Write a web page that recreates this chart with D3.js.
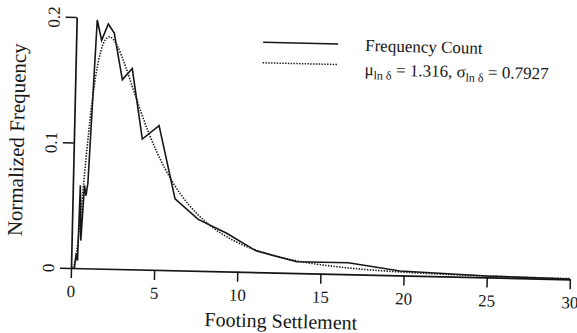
<!DOCTYPE html>
<html>
<head>
<meta charset="utf-8">
<script src="https://cdn.jsdelivr.net/npm/d3@7/dist/d3.min.js"></script>
<style>
  html, body { margin: 0; padding: 0; background: #ffffff; }
  svg { display: block; }
  text { font-family: "Liberation Serif", "Times New Roman", serif; fill: #161616; }
</style>
</head>
<body>
<svg id="chart" width="577" height="333"></svg>
<script>
// Observed footing settlements: normalized frequency per settlement bin
const FREQ_X = [0.2, 0.3, 0.38, 0.45, 0.55, 0.7, 0.8, 0.9, 1.24, 1.53, 1.91, 2.28, 2.83, 3.41, 4.11, 5.1, 6.16, 7.58, 9.31, 11.1, 13.56, 16.66, 19.78, 25, 30];
const FREQ_Y = [0, 0.012, 0.006, 0.066, 0.022, 0.066, 0.058, 0.068, 0.198, 0.182, 0.195, 0.188, 0.151, 0.160, 0.104, 0.115, 0.057, 0.041, 0.0305, 0.017, 0.0091, 0.0092, 0.0036, 0.0011, 0.0003];

// Fitted lognormal curve (mu = 1.316, sigma = 0.7927)
const FIT_X = [0.1, 0.25, 0.5, 0.75, 1, 1.25, 1.5, 1.75, 2, 2.25, 2.5, 3, 3.5, 4, 4.5, 5, 6, 7, 8, 9, 10, 12, 14, 16, 18, 20, 22, 25, 28, 30];
const FIT_Y = [0.0002, 0.006, 0.0405, 0.0867, 0.1269, 0.1557, 0.1735, 0.1824, 0.1848, 0.1826, 0.1773, 0.1616, 0.1433, 0.1253, 0.1087, 0.094, 0.0701, 0.0524, 0.0396, 0.0301, 0.0232, 0.0141, 0.0089, 0.0058, 0.0039, 0.0027, 0.0019, 0.0011, 0.0007, 0.0005];

const X_TICKS = [0, 5, 10, 15, 20, 25, 30];
const Y_TICKS = [0, 0.1, 0.2];
const Y_TICK_LABELS = ["0", "0.1", "0.2"];

const X_TITLE = "Footing Settlement";
const Y_TITLE = "Normalized Frequency";
const LEGEND_SOLID = "Frequency Count";

const ink = "#161616";
const serif = "'Liberation Serif', 'Times New Roman', serif";
const svg = d3.select("#chart");

// The whole figure sits slightly turned on the page
const root = svg.append("g")
  .attr("transform", "rotate(1.3,71,268)")
  .attr("font-family", serif);

const x = d3.scaleLinear().domain([0, 30]).range([71, 570]);
const y = d3.scaleLinear().domain([0, 0.2]).range([268, 17]);

// x axis
const xAxis = root.append("g")
  .attr("transform", `translate(0,${y(0)})`)
  .call(d3.axisBottom(x).tickValues(X_TICKS).tickSize(10).tickSizeOuter(0).tickFormat(d3.format("d")))
  .attr("font-family", serif);
xAxis.select(".domain").attr("stroke", ink).attr("stroke-width", 1.7);
xAxis.selectAll(".tick line").attr("stroke", ink).attr("stroke-width", 1.5);
xAxis.selectAll(".tick text")
  .attr("y", 29).attr("dy", null)
  .attr("font-size", 17).attr("font-family", serif).attr("fill", ink);

// y axis
const yAxis = root.append("g")
  .attr("transform", `translate(${x(0)},0)`)
  .call(d3.axisLeft(y).tickValues(Y_TICKS).tickSize(11).tickSizeOuter(0)
    .tickFormat((d, i) => Y_TICK_LABELS[i]))
  .attr("font-family", serif);
yAxis.select(".domain").attr("stroke", ink).attr("stroke-width", 1.7);
yAxis.selectAll(".tick line").attr("stroke", ink).attr("stroke-width", 1.5);
yAxis.selectAll(".tick text")
  .attr("x", null).attr("dy", null).attr("y", 0)
  .attr("text-anchor", "middle")
  .attr("transform", "translate(-17,0) rotate(-90)")
  .attr("font-size", 17).attr("font-family", serif).attr("fill", ink);

// axis titles
root.append("text")
  .attr("x", 282).attr("y", 323)
  .attr("text-anchor", "middle")
  .attr("font-size", 20)
  .text(X_TITLE);

root.append("text")
  .attr("transform", "translate(21,141) rotate(-90)")
  .attr("text-anchor", "middle")
  .attr("font-size", 21)
  .text(Y_TITLE);

// series
const freq = FREQ_X.map((v, i) => [v, FREQ_Y[i]]);
const fit = FIT_X.map((v, i) => [v, FIT_Y[i]]);

root.append("path")
  .datum(fit)
  .attr("fill", "none")
  .attr("stroke", ink)
  .attr("stroke-width", 1.6)
  .attr("stroke-dasharray", "1.4,1.4")
  .attr("d", d3.line().x(d => x(d[0])).y(d => y(d[1])).curve(d3.curveMonotoneX));

root.append("path")
  .datum(freq)
  .attr("fill", "none")
  .attr("stroke", ink)
  .attr("stroke-width", 1.6)
  .attr("stroke-linejoin", "miter")
  .attr("d", d3.line().x(d => x(d[0])).y(d => y(d[1])));

// legend
const legend = root.append("g");
legend.append("line")
  .attr("x1", 258).attr("x2", 333).attr("y1", 38).attr("y2", 38)
  .attr("stroke", ink).attr("stroke-width", 1.6);
legend.append("line")
  .attr("x1", 258).attr("x2", 333).attr("y1", 58.5).attr("y2", 58.5)
  .attr("stroke", ink).attr("stroke-width", 1.5)
  .attr("stroke-dasharray", "1.4,1.4");

legend.append("text")
  .attr("x", 360).attr("y", 44.5)
  .attr("font-size", 17)
  .text(LEGEND_SOLID);

const fitLabel = legend.append("text")
  .attr("x", 360).attr("y", 68.5)
  .attr("font-size", 17);
fitLabel.append("tspan").text("\u03bc");
fitLabel.append("tspan").attr("font-size", 12).attr("dy", 4).text("ln \u03b4");
fitLabel.append("tspan").attr("dy", -4).text(" = 1.316, \u03c3");
fitLabel.append("tspan").attr("font-size", 12).attr("dy", 4).text("ln \u03b4");
fitLabel.append("tspan").attr("dy", -4).text(" = 0.7927");
</script>
</body>
</html>
